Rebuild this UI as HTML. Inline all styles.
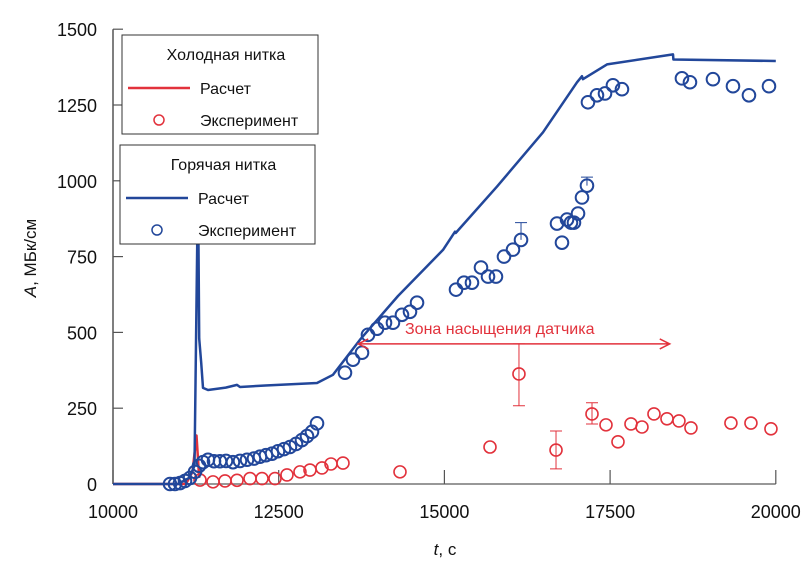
<!DOCTYPE html>
<html><head><meta charset="utf-8"><style>
body{margin:0;background:#fff;}
svg{display:block;font-family:"Liberation Sans",Arial,sans-serif;}
</style></head><body>
<svg id="chart" width="810" height="570" viewBox="0 0 810 570">
<g id="axes"></g>
<g id="series"></g>
<g id="annot"></g>
<g id="legend"></g>
</svg>
<script>
const xTicks=[10000,12500,15000,17500,20000];
const yTicks=[0,250,500,750,1000,1250,1500];
const hotCalcT=[10000,10980,11150,11230,11282,11300,11330,11358,11433,11700,11871,11916,12300,13078,13319,13727,14300,14979,15160,15170,15794,16488,17001,17076,17090,17453,18449,18455,20000];
const hotCalcV=[0,0,20,60,1000,480,400,317,310,318,327,320,325,333,360,476,620,772,832,828,981,1160,1325,1345,1335,1384,1417,1400,1395];
const coldCalcT=[10000,11100,11200,11260,11300];
const coldCalcV=[0,0,40,160,20];
const hotExpT=[10860,10935,11011,11086,11162,11237,11298,11358,11433,11524,11614,11705,11810,11916,12022,12127,12218,12308,12399,12489,12580,12670,12761,12851,12927,13002,13078,13500,13621,13757,13847,13983,14104,14224,14360,14481,14587,15175,15296,15416,15552,15658,15778,15899,16035,16156,16699,16774,16850,16910,16955,17016,17076,17151,17166,17302,17423,17543,17679,18584,18705,19052,19354,19595,19897];
const hotExpV=[0,0,3,10,20,40,60,72,80,75,75,76,72,76,80,84,90,95,100,108,115,122,132,145,158,172,200,367,410,433,492,512,532,532,558,568,598,641,664,664,714,684,684,750,773,805,859,796,872,862,862,892,945,984,1259,1282,1288,1315,1302,1338,1325,1335,1312,1282,1312];
const coldExpT=[11313,11509,11690,11871,12067,12248,12444,12625,12821,12972,13153,13289,13470,14330,15688,16125,16684,17227,17438,17619,17815,17981,18162,18358,18539,18720,19323,19625,19927];
const coldExpV=[13,7,10,12,18,18,18,30,40,46,53,66,69,40,122,363,112,231,195,139,198,188,231,215,208,185,201,201,182];
const coldErrT=[16125,16684,17227];
const coldErrLo=[258,50,198];
const coldErrHi=[462,175,268];
const hotErrT=[16156,17151];
const hotErrHi=[862,1012];

const X=t=>113+(t-10000)*0.06628;
const Y=v=>484-v*0.3032;
const NS="http://www.w3.org/2000/svg";
function mk(tag,parent,attrs){const e=document.createElementNS(NS,tag);for(const k in attrs)e.setAttribute(k,attrs[k]);parent.appendChild(e);return e;}
const axes=document.getElementById('axes'),ser=document.getElementById('series'),ann=document.getElementById('annot'),leg=document.getElementById('legend');
let e;
e=mk('line',axes,{x1:113,y1:Y(1500),x2:113,y2:Y(0),stroke:'#555','stroke-width':1.5});

e=mk('line',axes,{x1:113,y1:Y(0),x2:X(20000),y2:Y(0),stroke:'#777','stroke-width':1.5});

yTicks.forEach(v=>{
 e=mk('line',axes,{x1:113,y1:Y(v),x2:123,y2:Y(v),stroke:'#555','stroke-width':1.2});
 
 e=mk('text',axes,{x:97,y:Y(v)+7,'text-anchor':'end','font-size':18,fill:'#111'});e.textContent=v;
 
});
xTicks.forEach(t=>{
 e=mk('line',axes,{x1:X(t),y1:Y(0),x2:X(t),y2:Y(0)-14,stroke:'#555','stroke-width':1.2});
 
 e=mk('text',axes,{x:X(t),y:518,'text-anchor':'middle','font-size':18,fill:'#111'});e.textContent=t;
 
});
e=mk('text',axes,{x:445,y:555,'text-anchor':'middle','font-size':17,fill:'#111'});
e.innerHTML='<tspan font-style="italic">t</tspan>, с';

e=mk('text',axes,{x:36,y:258,'text-anchor':'middle','font-size':17,fill:'#111',transform:'rotate(-90 36 258)'});
e.innerHTML='<tspan font-style="italic">A</tspan>, МБк/см';


function line(T,V,col,name){const d=T.map((t,i)=>(i?'L':'M')+X(t).toFixed(1)+' '+Y(V[i]).toFixed(1)).join(' ');
 const p=mk('path',ser,{d:d,fill:'none',stroke:col,'stroke-width':2.5,'stroke-linejoin':'round'});
 }
const RED='#e2323c',BLUE='#22479a';
coldErrT.forEach((t,i)=>{
 e=mk('path',ser,{d:`M${X(t)} ${Y(coldErrLo[i])}V${Y(coldErrHi[i])}M${X(t)-6} ${Y(coldErrLo[i])}h12M${X(t)-6} ${Y(coldErrHi[i])}h12`,stroke:RED,'stroke-width':1,fill:'none'});
 
});
hotErrT.forEach((t,i)=>{
 const v=hotExpV[hotExpT.indexOf(t)];
 e=mk('path',ser,{d:`M${X(t)} ${Y(v)}V${Y(hotErrHi[i])}M${X(t)-6} ${Y(hotErrHi[i])}h12`,stroke:BLUE,'stroke-width':1,fill:'none'});
 
});
coldExpT.forEach((t,i)=>{
 e=mk('circle',ser,{cx:X(t),cy:Y(coldExpV[i]),r:6,fill:'none',stroke:RED,'stroke-width':1.6});
 
});
line(coldCalcT,coldCalcV,RED,'cold-calc-line');
hotExpT.forEach((t,i)=>{
 e=mk('circle',ser,{cx:X(t),cy:Y(hotExpV[i]),r:6.3,fill:'none',stroke:BLUE,'stroke-width':2});
 
});
line(hotCalcT,hotCalcV,BLUE,'hot-calc-line');

e=mk('path',ann,{d:`M${X(13700)} ${Y(462)}H${X(18400)}M${X(18400)-10} ${Y(462)-5}L${X(18400)} ${Y(462)}L${X(18400)-10} ${Y(462)+5}M${X(13700)+10} ${Y(462)-5}L${X(13700)} ${Y(462)}L${X(13700)+10} ${Y(462)+5}`,stroke:RED,'stroke-width':1.5,fill:'none'});

e=mk('text',ann,{x:405,y:334,'font-size':16,fill:RED});e.textContent='Зона насыщения датчика';


function legendBox(x,y,w,h,title,col,name){
 const g=mk('g',leg,{});
 mk('rect',g,{x:x,y:y,width:w,height:h,fill:'#fff',stroke:'#333','stroke-width':1});
 e=mk('text',g,{x:x+w/2+6,y:y+25,'text-anchor':'middle','font-size':16,fill:'#111'});e.textContent=title;
 
 e=mk('line',g,{x1:x+6,y1:y+53,x2:x+68,y2:y+53,stroke:col,'stroke-width':2.5});
 
 e=mk('text',g,{x:x+78,y:y+59,'font-size':16,fill:'#111'});e.textContent='Расчет';
 
 e=mk('circle',g,{cx:x+37,cy:y+85,r:5,fill:'none',stroke:col,'stroke-width':1.5});
 
 e=mk('text',g,{x:x+78,y:y+91,'font-size':16,fill:'#111'});e.textContent='Эксперимент';
 
}
legendBox(122,35,196,99,'Холодная нитка',RED,'legend-cold');
legendBox(120,145,195,99,'Горячая нитка',BLUE,'legend-hot');
</script>
</body></html>
